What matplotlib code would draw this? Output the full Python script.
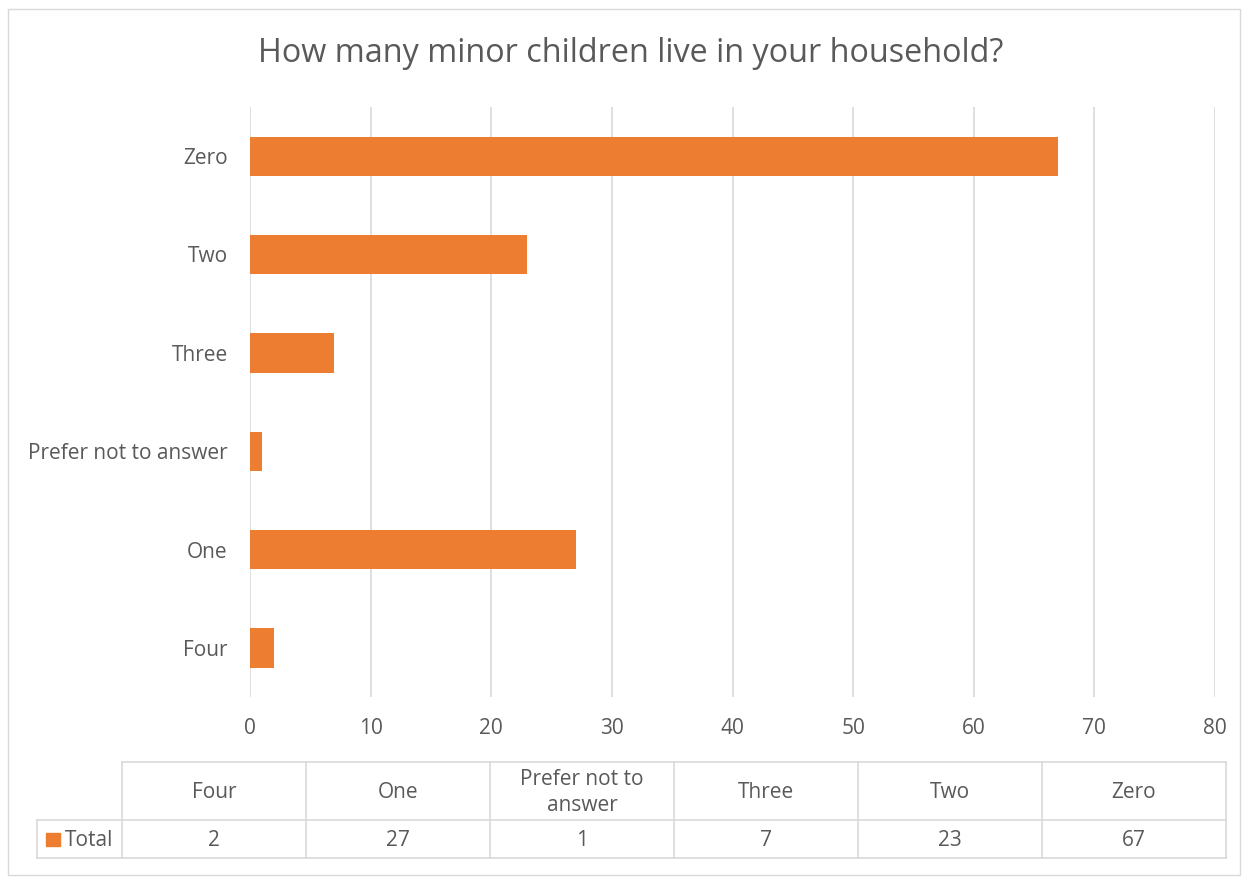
import matplotlib.pyplot as plt
from matplotlib.patches import Rectangle
from matplotlib.lines import Line2D

categories = ["Four", "One", "Prefer not to answer", "Three", "Two", "Zero"]
header_labels = ["Four", "One", "Prefer not to\nanswer", "Three", "Two", "Zero"]
values = [2, 27, 1, 7, 23, 67]
series_name = "Total"
xticks = [0, 10, 20, 30, 40, 50, 60, 70, 80]

orange = "#ED7D31"
text_col = "#595959"
grid_col = "#D9D9D9"
font = "Open Sans"

W, H = 1248, 882
fig = plt.figure(figsize=(W / 100, H / 100), dpi=100)

def fx(x):
    return x / W

def fy(y):
    return 1 - y / H

# outer chart border
fig.patches.append(Rectangle((fx(8), fy(875)), fx(1240) - fx(8), fy(9) - fy(875),
                             transform=fig.transFigure, fill=False,
                             edgecolor=grid_col, linewidth=1))

ax = fig.add_axes([fx(250), fy(697), fx(1215) - fx(250), fy(107) - fy(697)])
ax.barh(range(len(categories)), values, height=0.4, color=orange, zorder=3)
ax.set_xlim(0, 80)
ax.set_ylim(-0.5, len(categories) - 0.5)
ax.set_xticks(xticks)
ax.set_yticks(range(len(categories)))
ax.set_yticklabels(categories)
ax.grid(axis="x", color=grid_col, linewidth=1.2, zorder=0)
for s in ax.spines.values():
    s.set_visible(False)
ax.tick_params(length=0, labelsize=15, labelcolor=text_col, pad=16)
ax.tick_params(axis="x", pad=15)
for lab in ax.get_xticklabels() + ax.get_yticklabels():
    lab.set_family(font)

fig.text(fx(631), fy(54), "How many minor children live in your household?",
         ha="center", va="center", fontsize=23.3, color=text_col, family=font)

# data table
col_x = [122, 306, 490, 674, 858, 1042, 1226]
y_top, y_mid, y_bot = 762, 820, 858
lw = 1.2

def hline(x0, x1, y):
    fig.add_artist(Line2D([fx(x0), fx(x1)], [fy(y), fy(y)], transform=fig.transFigure,
                          color=grid_col, linewidth=lw))

def vline(x, y0, y1):
    fig.add_artist(Line2D([fx(x), fx(x)], [fy(y0), fy(y1)], transform=fig.transFigure,
                          color=grid_col, linewidth=lw))

hline(col_x[0], col_x[-1], y_top)
hline(37, col_x[-1], y_mid)
hline(37, col_x[-1], y_bot)
for x in col_x:
    vline(x, y_top, y_bot)
vline(37, y_mid, y_bot)

for i, (lab, v) in enumerate(zip(header_labels, values)):
    cx = (col_x[i] + col_x[i + 1]) / 2
    fig.text(fx(cx), fy((y_top + y_mid) / 2 + 1.5), lab, ha="center", va="center",
             fontsize=15, color=text_col, family=font, linespacing=1.3)
    fig.text(fx(cx), fy((y_mid + y_bot) / 2 + 1), str(v), ha="center", va="center",
             fontsize=15, color=text_col, family=font)

fig.patches.append(Rectangle((fx(46), fy(846)), fx(14), 13 / H,
                             transform=fig.transFigure, color=orange))
fig.text(fx(65), fy(840), series_name, ha="left", va="center",
         fontsize=15, color=text_col, family=font)

fig.savefig("out.png", dpi=100)
